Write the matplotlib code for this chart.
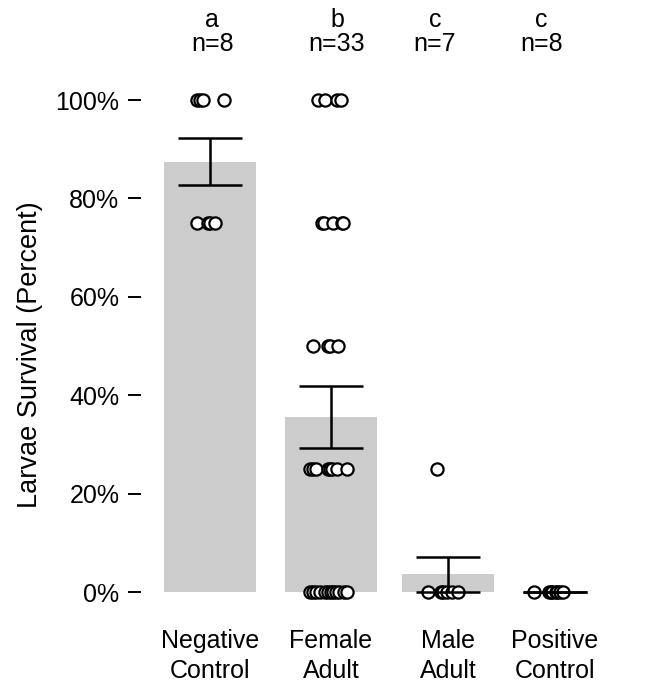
import numpy as np
import matplotlib
matplotlib.use("Agg")
import matplotlib.pyplot as plt

plt.rcParams['font.family'] = ['Liberation Sans', 'DejaVu Sans']

# groups and letters from the figure
groups = ["Negative\nControl", "Female\nAdult", "Male\nAdult", "Positive\nControl"]
letters = ["a", "b", "c", "c"]

# survival values (percent) per larva group
neg_vals = [100, 100, 100, 100, 75, 75, 75, 75]
fem_vals = [100] * 4 + [75] * 5 + [50] * 4 + [25] * 8 + [0] * 12
male_vals = [25, 0, 0, 0, 0, 0, 0]
pos_vals = [0] * 8

# horizontal jitter of the dots (in group units)
neg_jit = [-0.11, -0.08, -0.06, 0.12, -0.11, -0.02, 0.0, 0.04]
fem_jit = [-0.11, -0.05, 0.05, 0.08,
           -0.07, -0.06, 0.02, 0.09, 0.10,
           -0.15, -0.02, -0.01, 0.06,
           -0.17, -0.15, -0.12, -0.02, -0.01, 0.01, 0.05, 0.13,
           -0.17, -0.15, -0.12, -0.09, -0.05, -0.02, 0.0, 0.02, 0.04, 0.07, 0.11, 0.13]
male_jit = [-0.09, -0.17, -0.06, -0.04, -0.01, 0.03, 0.08]
pos_jit = [-0.17, -0.05, -0.03, -0.02, 0.01, 0.02, 0.04, 0.07]

all_vals = [neg_vals, fem_vals, male_vals, pos_vals]
all_jit = [neg_jit, fem_jit, male_jit, pos_jit]

xpos = np.array([0, 1, 1.97, 2.85])
# the letter / n labels on top sit a bit off the bar centres
top_xpos = [0.02, 1.05, 1.86, 2.74]

means = np.array([np.mean(v) for v in all_vals])
ses = np.array([np.std(v, ddof=1) / np.sqrt(len(v)) for v in all_vals])
lower = np.minimum(ses, means)

fig = plt.figure(figsize=(6.53, 6.9), dpi=100)
ax = fig.add_axes([141 / 653, 98 / 690, 479 / 653, 492 / 690])

ax.bar(xpos, means, width=0.76, color="#cccccc", zorder=1)

for x, vals, jit in zip(xpos, all_vals, all_jit):
    ax.plot(x + np.array(jit), vals, "o", ms=8.8, mfc="white", mec="black",
            mew=1.6, clip_on=False, zorder=3)

ax.errorbar(xpos, means, yerr=[lower, ses], fmt="none", ecolor="black",
            elinewidth=1.8, capsize=23, capthick=1.8, zorder=4, clip_on=False)

ax.set_xlim(-0.57, 3.39)
ax.set_ylim(0, 100)
ax.set_yticks([0, 20, 40, 60, 80, 100])
ax.set_yticklabels(["0%", "20%", "40%", "60%", "80%", "100%"])
ax.tick_params(axis="y", length=9.5, width=1.4, pad=6, labelsize=18)
ax.set_xticks([])
for s in ax.spines.values():
    s.set_visible(False)

ax.set_ylabel("Larvae Survival (Percent)", fontsize=19.5, labelpad=9)
ax.yaxis.label.set_y(0.482)

for x, g in zip(xpos, groups):
    ax.text(x, -0.076, g, transform=ax.get_xaxis_transform(), ha="center",
            va="top", fontsize=18, linespacing=1.3)

for x, l, v in zip(top_xpos, letters, all_vals):
    ax.text(x, 1.163, l, transform=ax.get_xaxis_transform(), ha="center",
            va="center", fontsize=18)
    ax.text(x, 1.114, "n=%d" % len(v), transform=ax.get_xaxis_transform(),
            ha="center", va="center", fontsize=18)

fig.savefig("out.png", dpi=100)
